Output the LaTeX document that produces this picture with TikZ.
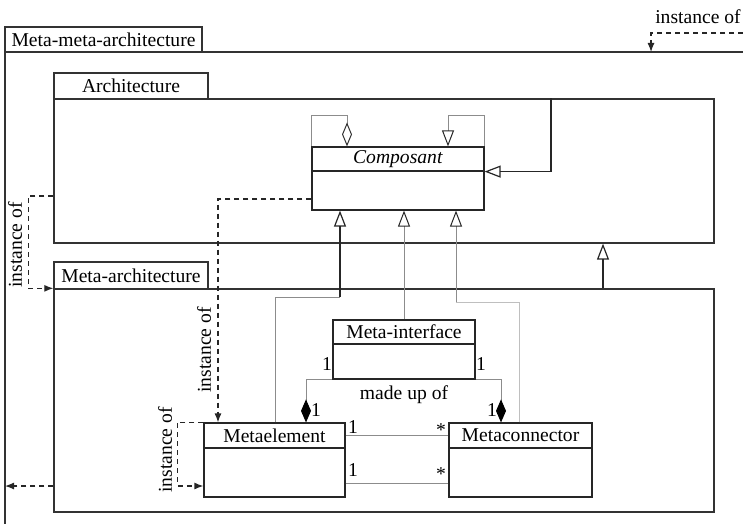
\documentclass[tikz,border=0pt]{standalone}
\usepackage{fontspec}
\setmainfont{Liberation Serif}
\usetikzlibrary{fit,arrows.meta}
\begin{document}
\begin{tikzpicture}[x=0.5pt,y=-0.5pt,
  font=\fontsize{9.8}{11}\selectfont,
  frame/.style={draw=black!80,line width=0.65pt,inner sep=0pt},
  cls/.style={draw=black!85,line width=0.6pt,inner sep=0pt},
  link/.style={draw=black!45,line width=0.5pt},
  faint/.style={draw=black!25,line width=0.5pt},
  strong/.style={draw=black!85,line width=0.6pt},
  inst/.style={draw=black!85,line width=0.6pt,dash pattern=on 2.5pt off 2pt,
    -{Latex[length=4.5pt,width=3.5pt]}},
  gen/.style={-{Triangle[open,length=8pt,width=6pt,color=black!85]}},
  agg/.style={-{Diamond[open,length=12pt,width=5pt,color=black!80]}},
  compo/.style={-{Diamond[length=11.5pt,width=5pt,color=black,fill=black]}},
  txt/.style={inner sep=0pt,font=\rmfamily\fontsize{9.8}{11}\selectfont}]
\useasboundingbox (0,0) rectangle (743,524);

% outermost package: Meta-meta-architecture
\coordinate (mmTL) at (5,52);
\coordinate (mmR) at (743,52);
\coordinate (mmB) at (5,524);
\draw[frame] (mmR) -- (mmTL) -- (mmB);
\node[frame,fit={(5,27)(202,52)}] (mmtab) {};
\node[txt] (mmtabT) at (mmtab.center) {Meta-meta-architecture};

% package Architecture
\node[frame,fit={(54,99)(714,243)}] (arch) {};
\node[frame,fit={(54,73)(208,99)}] (archtab) {};
\node[txt] (archtabT) at (archtab.center) {Architecture};

% package Meta-architecture
\node[frame,fit={(54,289)(714,512)}] (meta) {};
\node[frame,fit={(54,262)(208,289)}] (metatab) {};
\node[txt] (metatabT) at (metatab.center) {Meta-architecture};

% classes
\node[cls,fit={(312,147)(484,171)}] (compN) {};
\node[cls,fit={(312,171)(484,210)}] (compB) {};
\node[txt] (compT) at (compN.center) {\textit{Composant}};
\node[cls,fit={(333,320)(475,344)}] (ifN) {};
\node[cls,fit={(333,344)(475,379)}] (ifB) {};
\node[txt] (ifT) at (ifN.center) {Meta-interface};
\node[cls,fit={(204,423)(345,448)}] (elN) {};
\node[cls,fit={(204,448)(345,497)}] (elB) {};
\node[txt] (elT) at (elN.center) {Metaelement};
\node[cls,fit={(449,423)(592,448)}] (cnN) {};
\node[cls,fit={(449,448)(592,497)}] (cnB) {};
\node[txt] (cnT) at (cnN.center) {Metaconnector};

% recursive relations on Composant
\draw[link,agg] (compN.north west) -- ++(0,-31) -| (347,0 |- compN.north);
\draw[link,gen] (compN.north east) -- ++(0,-31) -| (448,0 |- compN.north);
\draw[strong,gen] (551,0 |- arch.north) |- (compN.south east);

% generalisations towards Composant
\coordinate (j1) at (340,297);
\coordinate (j2) at (456,302);
\draw[link] (275,0 |- elN.north) |- (j1);
\draw[strong,gen] (j1) -- (j1 |- compB.south);
\draw[link,gen] (ifN.north) -- (ifN.north |- compB.south);
\draw[faint] (519,0 |- cnN.north) |- (j2);
\draw[link,gen] (j2) -- (j2 |- compB.south);
\draw[strong,gen] (603,0 |- meta.north) -- (603,0 |- arch.south);

% composition of the meta-interface
\draw[link,compo] (ifB.south west) -| (306,0 |- elN.north);
\draw[link,compo] (ifB.south east) -| (501,0 |- cnN.north);
\node[txt] (m1) at (327,364) {1};
\node[txt] (m2) at (481,364) {1};
\node[txt] (m3) at (316,410) {1};
\node[txt] (m4) at (492,410) {1};
\node[txt] (made) at (404,395) {made up of};

% associations between Metaelement and Metaconnector
\draw[link] (elN.east) -- (cnN.west);
\draw[link] (elB.east |- 0,483) -- (cnB.west |- 0,483);
\node[txt] (a1) at (353,427) {1};
\node[txt] (a2) at (441,430) {*};
\node[txt] (a3) at (353,470) {1};
\node[txt] (a4) at (441,474) {*};

% instantiation links
\draw[inst] (compB.west |- 0,199) -| (218,0 |- elN.north);
\node[txt,rotate=90] (i1) at (204,350) {instance of};
\draw[inst] (elN.north west) -- ++(-26,0) |- (elB.west |- 0,486);
\node[txt,rotate=90] (i2) at (165,450) {instance of};
\draw[inst] (arch.west |- 0,196) -- ++(-25,0) |- (meta.north west);
\node[txt,rotate=90] (i3) at (15,245) {instance of};
\draw[inst] (meta.west |- 0,486) -- (mmTL |- 0,486);
\coordinate (top) at (743,33);
\draw[inst] (top) -| (651,0 |- mmTL);
\node[txt] (i4) at (698,17) {instance of};
\end{tikzpicture}
\end{document}
